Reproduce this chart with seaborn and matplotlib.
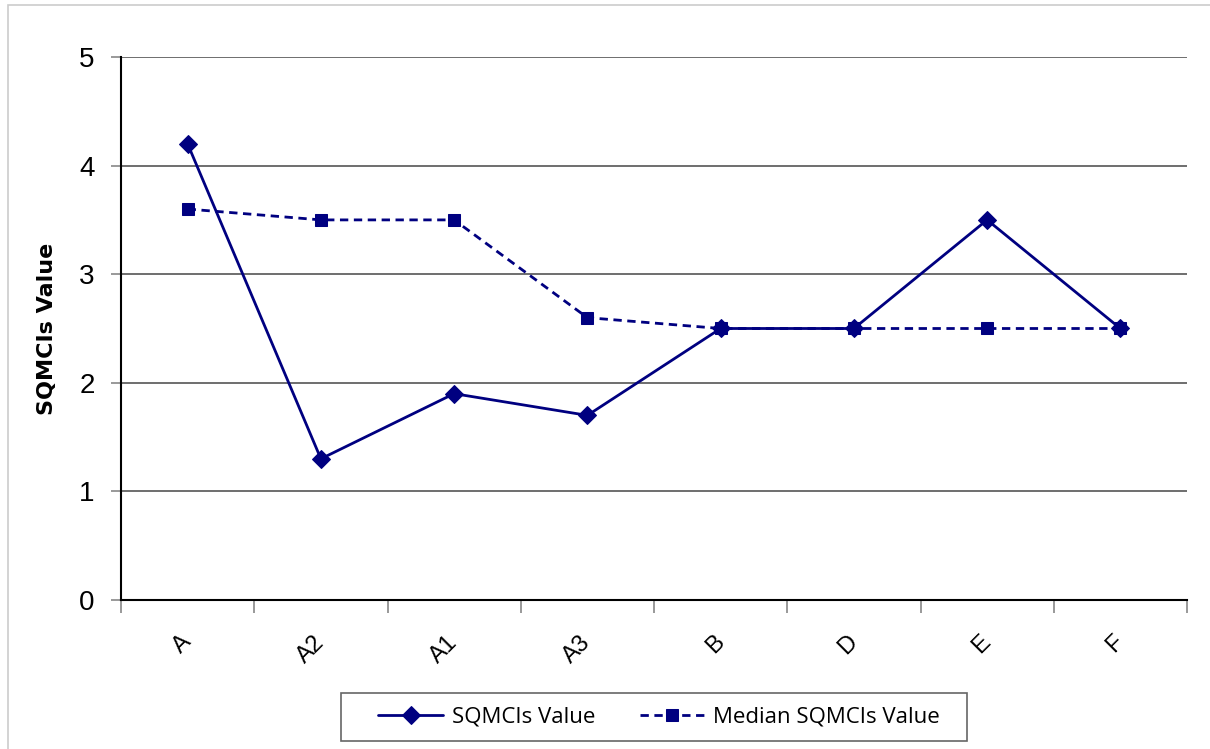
import numpy as np
import pandas as pd
import matplotlib.pyplot as plt
import seaborn as sns
from matplotlib.patches import Rectangle

# chart data
categories = ['A', 'A2', 'A1', 'A3', 'B', 'D', 'E', 'F']
sqmcis = [4.2, 1.3, 1.9, 1.7, 2.5, 2.5, 3.5, 2.5]
median_sqmcis = [3.6, 3.5, 3.5, 2.6, 2.5, 2.5, 2.5, 2.5]

df = pd.DataFrame({'cat': categories, 'SQMCIs Value': sqmcis,
                   'Median SQMCIs Value': median_sqmcis})
df['x'] = np.arange(len(categories))

sns.set_style('white')
plt.rcParams['font.family'] = ['Liberation Sans', 'DejaVu Sans']
plt.rcParams['text.color'] = 'black'
plt.rcParams['xtick.color'] = 'black'
plt.rcParams['ytick.color'] = 'black'

fig = plt.figure(figsize=(12.1, 7.49), dpi=100)
ax = fig.add_axes([121 / 1210, 1 - 600 / 749, (1187 - 121) / 1210, (600 - 57) / 749])

navy = '#000080'
sns.lineplot(data=df, x='x', y='SQMCIs Value', ax=ax, color=navy, lw=2,
             marker='D', markersize=9, markeredgecolor=navy, label='SQMCIs Value')
sns.lineplot(data=df, x='x', y='Median SQMCIs Value', ax=ax, color=navy, lw=2,
             linestyle=(0, (3, 2)), marker='s', markersize=8, markeredgecolor=navy,
             label='Median SQMCIs Value')

ax.set_xlim(-0.5, len(categories) - 0.5)
ax.set_ylim(0, 5)
ax.set_yticks(range(6))
ax.yaxis.grid(True, color='#555555', lw=1.2)
ax.set_axisbelow(True)

ax.set_xticks(df['x'])
ax.set_xticklabels(categories, rotation=45, ha='right', va='center',
                   rotation_mode='anchor', fontsize=17)
ax.tick_params(axis='x', which='major', length=0, pad=28)
ax.set_xticks(np.arange(-0.5, len(categories)), minor=True)
ax.tick_params(axis='x', which='minor', length=9, width=1.2, color='#888888',
               direction='out', bottom=True)
ax.tick_params(axis='y', length=7, width=1.2, color='#888888', labelcolor='black',
               direction='out', left=True, labelsize=20, pad=12)

for s in ['top', 'right']:
    ax.spines[s].set_visible(False)
for s in ['left', 'bottom']:
    ax.spines[s].set_color('black')
    ax.spines[s].set_linewidth(1.5)

ax.set_xlabel('')
ax.set_ylabel('SQMCIs Value', fontsize=16, fontweight='bold', family='DejaVu Sans',
              color='black', labelpad=16)

ax.legend_.remove()
handles, labels = ax.get_legend_handles_labels()
leg = fig.legend(handles, labels, loc='center', bbox_to_anchor=(659 / 1210, 1 - 717 / 749),
                 ncol=2, frameon=False, prop={'family': 'Open Sans', 'size': 16},
                 handlelength=2.9, handletextpad=0.4, columnspacing=2.0,
                 borderpad=0.3, borderaxespad=0)
for t in leg.get_texts():
    t.set_color('black')

# legend box and outer chart border
fig.patches.append(Rectangle((341 / 1210, 1 - 741 / 749), (967 - 341) / 1210, 48 / 749,
                             transform=fig.transFigure, fill=False,
                             edgecolor='#666666', lw=1.2))
fig.patches.append(Rectangle((8 / 1210, -0.01), 1.0, 1 - 5 / 749 + 0.01,
                             transform=fig.transFigure, fill=False,
                             edgecolor='#cccccc', lw=1.2))

fig.savefig('out.png', dpi=100)
